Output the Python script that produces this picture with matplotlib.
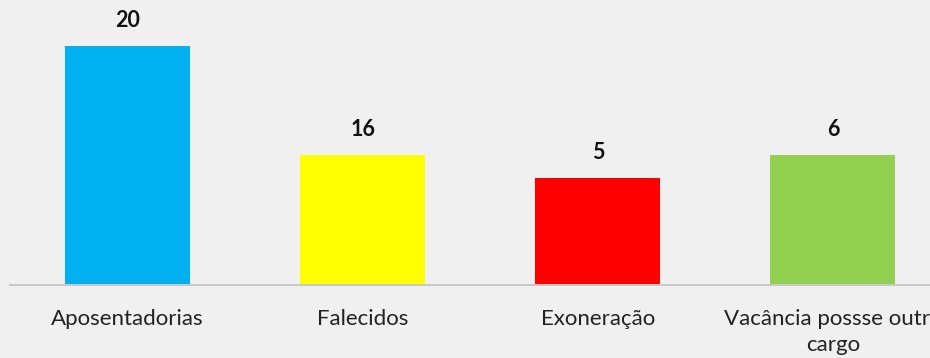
import matplotlib.pyplot as plt

# Data
categories = ["Aposentadorias", "Falecidos", "Exoneração", "Vacância possse outro\ncargo"]
bar_heights = [239, 130, 107, 130]  # drawn heights (picture units)
value_labels = ["20", "16", "5", "6"]
colors = ["#00B0F0", "#FFFF00", "#FF0000", "#92D050"]

plt.rcParams["font.family"] = ["Lato", "DejaVu Sans"]

fig = plt.figure(figsize=(9.3, 3.58), dpi=100, facecolor="#f0f0f0")
ax = fig.add_axes([10 / 930, 73 / 358, 940.5 / 930, 285 / 358])
ax.set_facecolor("#f0f0f0")

x = range(len(categories))
bars = ax.bar(x, bar_heights, width=0.532, color=colors, zorder=2)

for b, lab in zip(bars, value_labels):
    ax.annotate(lab, (b.get_x() + b.get_width() / 2, b.get_height()),
                xytext=(0, 11), textcoords="offset points",
                ha="center", va="bottom", fontsize=15.5, fontweight="bold",
                color="#111111")

ax.set_xlim(-0.5, 3.5)
ax.set_ylim(0, 285)
ax.set_xticks(list(x))
ax.set_xticklabels(categories, fontsize=16, color="#222222", linespacing=1.4)
ax.tick_params(axis="x", length=0, pad=17)
ax.set_yticks([])
for s in ["top", "right", "left"]:
    ax.spines[s].set_visible(False)
ax.spines["bottom"].set_color("#c8c8c8")
ax.spines["bottom"].set_linewidth(1.5)

fig.savefig("out.png", dpi=100, facecolor=fig.get_facecolor())
